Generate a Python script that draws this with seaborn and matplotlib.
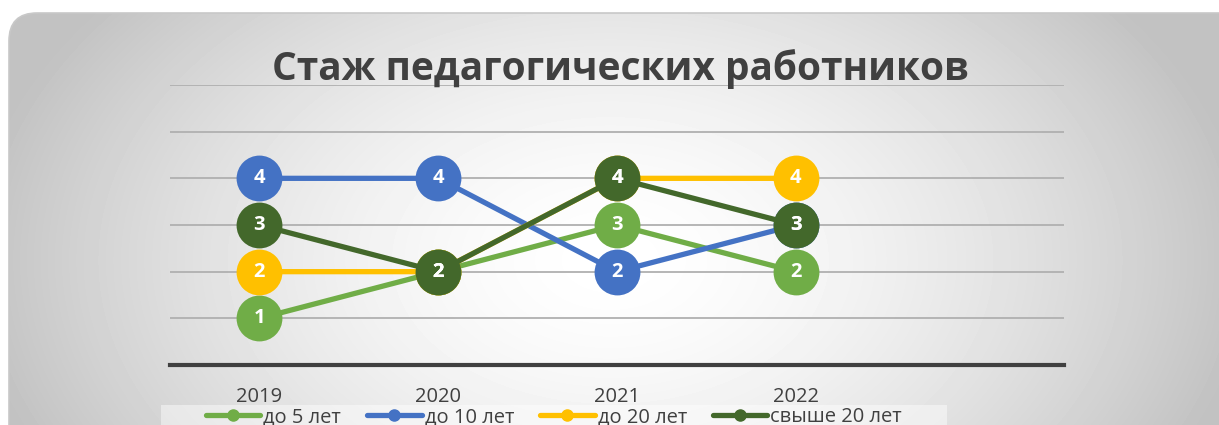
import numpy as np
import pandas as pd
import seaborn as sns
import matplotlib.pyplot as plt
from matplotlib.patches import FancyBboxPatch, Rectangle

years = ['2019', '2020', '2021', '2022']
series_names = ['до 5 лет', 'до 10 лет', 'до 20 лет', 'свыше 20 лет']
upto5 = [1, 2, 3, 2]
upto10 = [4, 4, 2, 3]
upto20 = [2, 2, 4, 4]
over20 = [3, 2, 4, 3]
colors = ['#70AD47', '#4472C4', '#FFC000', '#43682B']

rows = []
for name, vals in zip(series_names, [upto5, upto10, upto20, over20]):
    for i, v in enumerate(vals):
        rows.append({'pos': i, 'year': years[i], 'series': name, 'value': v})
df = pd.DataFrame(rows)

sns.set_style('white')
plt.rcParams['font.family'] = ['Open Sans', 'DejaVu Sans']

W, H = 1219, 425
fig = plt.figure(figsize=(W / 100, H / 100), dpi=100)
fig.patch.set_facecolor('white')

# background panel with radial gradient
bg = fig.add_axes([0, 0, 1, 1])
bg.set_xlim(0, W)
bg.set_ylim(H, 0)
bg.axis('off')
yy, xx = np.mgrid[0:H, 0:W]
r = np.sqrt(((xx - 610) / 640.0) ** 2 + ((yy - 260) / 420.0) ** 2)
shade = 1.0 - 0.24 * np.clip(r, 0, 1) ** 1.6
img = bg.imshow(shade, cmap='gray', vmin=0, vmax=1, extent=(0, W, H, 0), aspect='auto')
panel = FancyBboxPatch((9, 13), 1250, 460, boxstyle='round,pad=0,rounding_size=28',
                       facecolor='none', edgecolor='#c8c8c8', lw=1.2)
bg.add_patch(panel)
img.set_clip_path(panel)
bg.add_patch(Rectangle((161, 405), 786, 30, facecolor='white', alpha=0.45, edgecolor='none'))

ax = fig.add_axes([170 / W, 1 - 365 / H, 894 / W, 280 / H])
ax.patch.set_alpha(0)
sns.lineplot(data=df, x='pos', y='value', hue='series', hue_order=series_names,
             palette=colors, lw=3.8, marker='o', markersize=33, markeredgewidth=0,
             ax=ax, legend=False)

for name, vals in zip(series_names, [upto5, upto10, upto20, over20]):
    for i, v in enumerate(vals):
        ax.text(i, v, str(v), ha='center', va='center', color='white',
                fontsize=14.5, fontweight='bold', zorder=10)

ax.set_xlim(-0.5, 4.5)
ax.set_ylim(0, 6)
ax.set_yticks(range(0, 7))
ax.set_yticklabels([])
ax.tick_params(axis='y', length=0)
ax.yaxis.grid(True, color='#b0b0b0', lw=1.3)
ax.set_xticks(range(len(years)))
ax.set_xticklabels(years, fontsize=14.5, color='#404040')
ax.tick_params(axis='x', length=0, pad=16)
ax.set_xlabel('')
ax.set_ylabel('')
for s in ['top', 'right', 'left']:
    ax.spines[s].set_visible(False)
ax.spines['bottom'].set_color('#404040')
ax.spines['bottom'].set_linewidth(3)

fig.text(620 / W, 1 - 69 / H, 'Стаж педагогических работников', ha='center', va='center',
         fontsize=28, fontweight='bold', color='#404040')

handles = [plt.Line2D([], [], color=c, lw=3.8, marker='o', markersize=8) for c in colors]
leg = fig.legend(handles, series_names, loc='center', bbox_to_anchor=(554 / W, 1 - 417 / H),
                 ncol=4, frameon=False, fontsize=14.5, handlelength=2.7, handletextpad=0.15,
                 columnspacing=1.3, borderpad=0, labelcolor='#404040')

fig.savefig('out.png', dpi=100)
